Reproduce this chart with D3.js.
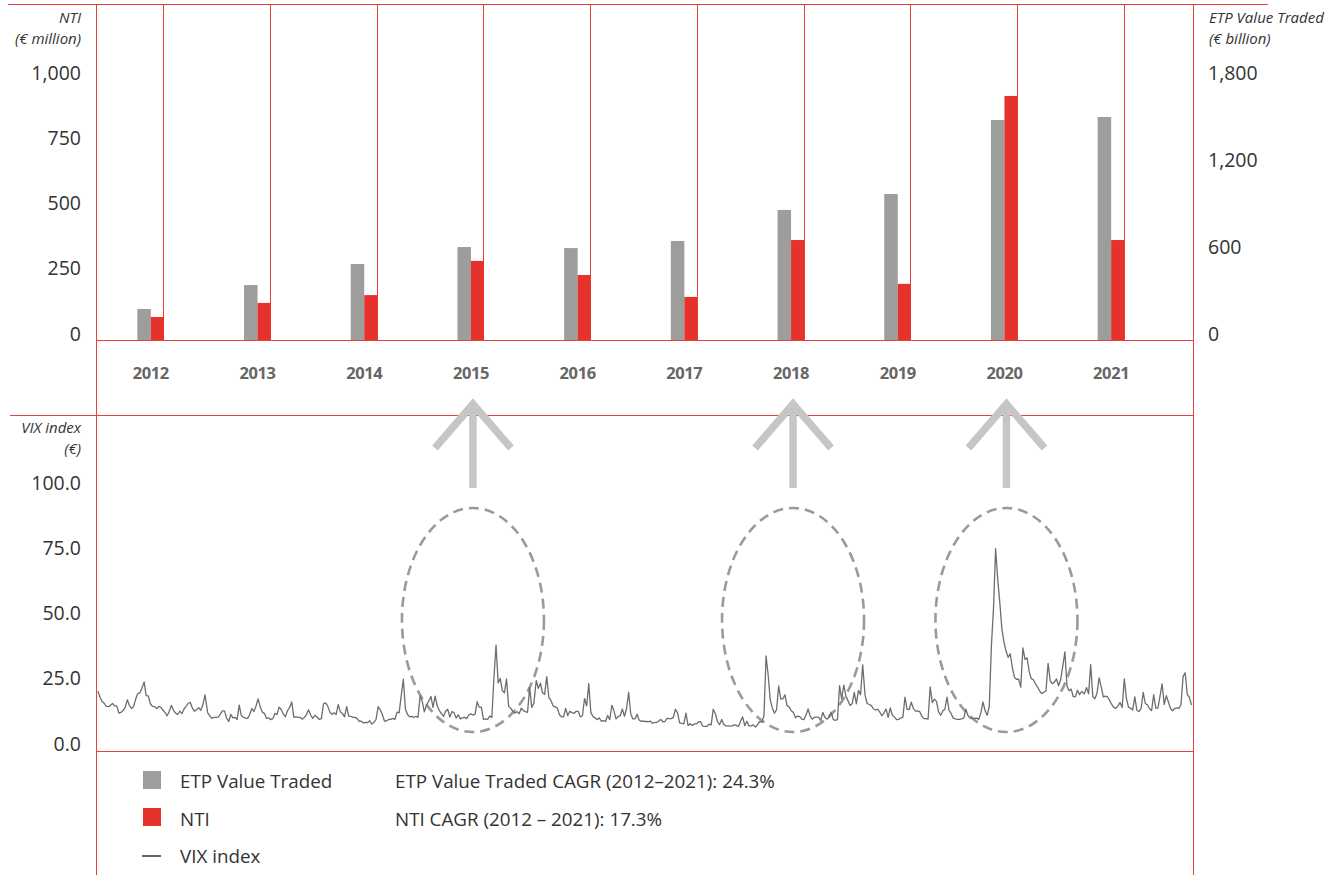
<!DOCTYPE html>
<html><head><meta charset="utf-8">
<script src="https://cdn.jsdelivr.net/npm/d3@7"></script>
<style>
body{margin:0;background:#fff}
svg{display:block}
text{font-family:"Open Sans",sans-serif}
</style>
</head><body>
<svg id="chart" width="1330" height="875"></svg>
<script>
// ---------------- DATA ----------------
const years = [2012, 2013, 2014, 2015, 2016, 2017, 2018, 2019, 2020, 2021];
const etpValueTraded = [214, 379, 524, 641, 634, 683, 897, 1007, 1517, 1538]; // € billion
const nti = [88, 142, 172, 303, 249, 165, 383, 215, 935, 383];                  // € million
const ntiTicks = [0, 250, 500, 750, 1000];
const etpTicks = [0, 600, 1200, 1800];
const vixTicks = [0, 25, 50, 75, 100];
const highlightYears = [2015, 2018, 2020];

// weekly VIX index readings per year
const vix2012 = [23.0,20.6,19.0,18.3,17.1,17.0,17.5,18.2,17.3,17.3,14.5,14.8,15.5,16.7,19.6,17.4,16.3,17.1,19.9,22.0,22.3,24.1,26.5,21.2,21.1,18.1,17.1,17.0,16.3,17.1,16.7,15.6,14.7,13.5,15.2,17.5,15.6,14.5,14.0,15.3,14.3,16.1,17.1,18.3,18.6,16.4,15.2,15.9,16.6,15.6,17.8,21.5];
const vix2013 = [14.6,13.5,12.5,12.9,12.9,13.0,14.1,15.4,15.4,12.6,11.3,14.0,12.7,12.9,12.1,17.6,13.6,12.9,12.6,12.5,14.0,16.3,15.1,17.2,20.0,16.9,14.9,14.4,12.5,12.7,12.0,12.4,14.4,14.0,16.8,15.9,14.2,13.1,15.5,16.7,18.8,13.0,13.1,12.9,12.9,12.2,12.8,13.9,15.8,13.8,12.5,13.7];
const vix2014 = [12.9,12.1,12.4,18.1,18.4,17.2,15.0,14.0,14.7,14.0,17.8,15.0,14.4,13.1,17.0,13.4,13.3,12.9,12.9,12.4,11.4,11.4,10.7,11.0,10.9,11.6,10.3,11.0,12.1,17.0,15.8,14.0,11.5,11.5,12.1,12.1,12.5,12.1,14.9,14.6,21.2,27.5,16.1,14.0,13.1,13.3,12.9,13.3,12.9,21.1,19.0,15.0];
const vix2015 = [17.8,19.2,20.9,16.7,21.0,17.3,15.5,14.3,13.3,15.2,16.0,13.0,15.1,14.7,12.6,13.9,12.3,12.7,12.9,12.4,13.8,14.2,13.8,14.0,18.9,16.8,16.8,12.1,12.3,12.1,13.4,12.8,28.0,40.6,26.1,27.8,23.2,22.3,27.6,17.1,16.4,15.1,14.5,15.1,14.3,16.4,15.5,15.1,14.8,24.4,16.7,18.2];
const vix2016 = [27.0,24.0,26.0,22.3,21.7,28.5,20.5,19.4,17.3,16.9,16.5,14.0,13.1,13.1,16.3,13.6,15.2,14.7,14.4,15.2,15.2,13.1,13.5,20.1,17.3,25.8,14.8,13.2,12.7,12.0,12.7,11.4,11.6,11.3,13.6,12.0,17.5,15.4,12.3,13.3,13.5,16.1,13.3,16.2,22.5,14.2,12.3,12.3,14.1,11.8,11.4,11.4];
const vix2017 = [11.3,11.2,11.5,10.6,11.0,10.9,11.5,12.1,11.2,11.3,12.5,12.4,12.4,12.9,16.0,14.6,10.8,10.6,10.4,14.5,9.8,10.4,9.8,10.4,10.4,11.2,11.2,9.5,9.4,9.4,10.3,10.0,16.0,14.3,11.3,10.1,12.1,10.2,9.6,9.6,9.5,9.6,10.0,9.8,9.4,11.4,13.1,9.7,11.4,9.6,9.6,10.0];
const vix2018 = [9.2,10.2,11.3,11.1,13.5,36.4,29.1,19.5,16.5,14.5,15.8,24.9,20.0,20.0,21.5,17.4,16.9,15.4,14.8,12.7,13.4,13.2,12.2,12.0,13.8,16.1,13.4,12.2,12.9,13.0,13.0,11.6,14.8,12.9,12.2,12.9,14.9,12.1,11.7,12.1,25.0,19.9,25.2,21.2,19.3,17.4,18.1,22.5,18.1,23.2,21.6,33.0];
const vix2019 = [21.4,18.2,17.8,17.4,16.1,15.7,16.0,14.9,13.5,14.6,16.1,12.9,16.5,13.7,13.0,12.0,12.1,12.7,12.9,20.6,16.0,15.9,18.7,16.3,15.3,15.4,15.1,13.3,12.4,12.4,12.2,24.6,18.5,19.9,19.0,15.0,13.7,15.3,16.0,20.6,15.6,14.3,12.6,12.3,12.1,12.1,12.3,12.6,16.0,13.6,12.6,12.5];
const vix2020 = [12.5,12.6,12.1,14.6,18.8,15.5,13.7,17.1,40.1,54.5,77.5,66.0,57.0,46.8,41.7,38.2,35.9,37.2,31.9,28.2,27.5,27.5,24.5,39.5,35.1,35.7,30.4,27.7,27.3,25.7,24.5,23.0,22.0,22.5,23.0,33.6,26.9,25.8,26.4,27.6,25.0,27.4,32.5,38.0,24.9,23.1,23.7,20.8,20.8,23.3,21.6,22.8];
const vix2021 = [21.9,24.3,21.9,33.1,20.9,20.0,22.1,28.0,24.7,20.7,21.0,20.7,19.4,17.9,16.7,16.3,17.3,18.6,16.7,27.6,20.2,16.8,16.4,15.7,20.7,15.6,15.1,16.2,22.5,18.2,17.7,16.2,15.5,21.6,16.4,16.4,21.0,25.7,17.8,21.2,18.8,16.3,15.4,16.3,16.5,16.3,17.9,28.6,30.0,21.6,20.6,17.6];
const vixByYear = [vix2012, vix2013, vix2014, vix2015, vix2016, vix2017, vix2018, vix2019, vix2020, vix2021];

const legendLabels = ["ETP Value Traded", "NTI", "VIX index"];
const cagrNotes = ["ETP Value Traded CAGR (2012\u20132021): 24.3%", "NTI CAGR (2012 \u2013 2021): 17.3%"];

// ---------------- DRAW ----------------
const RED = "#e5322b", GREY_BAR = "#9d9d9c", LINE = "#e8413a";
const svg = d3.select("#chart");

const x = d3.scaleBand().domain(years).range([97.5, 1164.5]);
const bw = x.bandwidth();
const cx = yr => x(yr) + bw / 2;
const yNti = d3.scaleLinear().domain([0, 1000]).range([340, 79]);
const yEtp = d3.scaleLinear().domain([0, 1800]).range([340, 79]);
const xt = d3.scaleTime().domain([new Date(2012, 0, 1), new Date(2022, 0, 1)]).range([97, 1193]);
const yV = d3.scaleLinear().domain([0, 100]).range([751, 490]);

// frame lines
const lines = svg.append("g").attr("stroke", LINE).attr("stroke-width", 1).attr("fill", "none");
lines.append("line").attr("x1", 8).attr("x2", 1268).attr("y1", 4.5).attr("y2", 4.5);
lines.append("line").attr("x1", 96.5).attr("x2", 96.5).attr("y1", 4).attr("y2", 875);
lines.append("line").attr("x1", 1193.5).attr("x2", 1193.5).attr("y1", 4).attr("y2", 875);
lines.append("line").attr("x1", 10).attr("x2", 1193.5).attr("y1", 415.5).attr("y2", 415.5);
lines.append("line").attr("x1", 96.5).attr("x2", 1193.5).attr("y1", yNti(0) + 0.5).attr("y2", yNti(0) + 0.5);
lines.append("line").attr("x1", 96.5).attr("x2", 1193.5).attr("y1", yV(0) + 0.5).attr("y2", yV(0) + 0.5);
lines.selectAll("line.yr").data(years).join("line").attr("class", "yr")
  .attr("x1", d => Math.floor(cx(d) + 13) + 0.5).attr("x2", d => Math.floor(cx(d) + 13) + 0.5)
  .attr("y1", 4).attr("y2", yNti(0));

// bars
svg.append("g").selectAll("rect").data(years).join("rect")
  .attr("x", d => cx(d) - 13.5).attr("width", 13.5)
  .attr("y", (d, i) => yEtp(etpValueTraded[i])).attr("height", (d, i) => yEtp(0) - yEtp(etpValueTraded[i]))
  .attr("fill", GREY_BAR);
svg.append("g").selectAll("rect").data(years).join("rect")
  .attr("x", d => cx(d)).attr("width", 13)
  .attr("y", (d, i) => yNti(nti[i])).attr("height", (d, i) => yNti(0) - yNti(nti[i]))
  .attr("fill", RED);

// year labels
svg.append("g").selectAll("text").data(years).join("text")
  .attr("x", d => cx(d)).attr("y", 379).attr("text-anchor", "middle")
  .attr("fill", "#666").style("font-size", "16.5px").style("font-weight", 700).style("letter-spacing", "-0.4px")
  .text(d => d);

// left axis (NTI)
const fmt0 = d3.format(",");
svg.append("g").selectAll("text").data(ntiTicks).join("text")
  .attr("x", 81).attr("y", d => yNti(d) + 0.5).attr("text-anchor", "end")
  .attr("fill", "#333").style("font-size", "19.5px").text(d => fmt0(d));
// right axis (ETP)
svg.append("g").selectAll("text").data(etpTicks).join("text")
  .attr("x", 1208).attr("y", d => yEtp(d) + 0.5).attr("text-anchor", "start")
  .attr("fill", "#333").style("font-size", "19.5px").text(d => fmt0(d));
// VIX axis
const fmt1 = d3.format(".1f");
svg.append("g").selectAll("text").data(vixTicks).join("text")
  .attr("x", 81).attr("y", d => yV(d) - 0.5).attr("text-anchor", "end")
  .attr("fill", "#333").style("font-size", "19.5px").text(d => fmt1(d));

// axis titles
function title(xp, lines2, anchor, y0) {
  const g = svg.append("g").attr("fill", "#333").style("font-size", "15px").style("font-style", "italic");
  lines2.forEach((t, i) => g.append("text").attr("x", xp).attr("y", y0 + i * 21).attr("text-anchor", anchor).text(t));
}
title(81, ["NTI", "(\u20ac million)"], "end", 23);
title(1209, ["ETP Value Traded", "(\u20ac billion)"], "start", 23);
title(81, ["VIX index", "(\u20ac)"], "end", 433);

// ellipses
svg.append("g").selectAll("ellipse").data(highlightYears).join("ellipse")
  .attr("cx", d => cx(d) + 2).attr("cy", 620).attr("rx", 71).attr("ry", 112)
  .attr("fill", "none").attr("stroke", "#9a9a9a").attr("stroke-width", 2.6).attr("stroke-dasharray", "10 6");

// VIX line
const vixPoints = [];
vixByYear.forEach((arr, yi) => arr.forEach((v, i) => vixPoints.push({ date: new Date(years[yi], 0, 4 + 7 * i), v })));
svg.append("path").datum(vixPoints)
  .attr("d", d3.line().x(d => xt(d.date)).y(d => yV(d.v)))
  .attr("fill", "none").attr("stroke", "#6d6d6d").attr("stroke-width", 1.3).attr("stroke-linejoin", "round");

// arrows
const ag = svg.append("g").attr("stroke", "#c6c6c6").attr("stroke-width", 7.5).attr("fill", "none");
highlightYears.forEach(yr => {
  const ax = cx(yr) + 2;
  ag.append("line").attr("x1", ax).attr("x2", ax).attr("y1", 406).attr("y2", 488);
  ag.append("polyline").attr("points", `${ax - 38},${448} ${ax},${404} ${ax + 38},${448}`)
    .attr("stroke-linejoin", "miter");
});

// legend
const lg = svg.append("g");
lg.append("rect").attr("x", 143).attr("y", 771).attr("width", 18).attr("height", 18).attr("fill", GREY_BAR);
lg.append("rect").attr("x", 143).attr("y", 808).attr("width", 18).attr("height", 18).attr("fill", RED);
lg.append("line").attr("x1", 142).attr("x2", 161).attr("y1", 856).attr("y2", 856).attr("stroke", "#666").attr("stroke-width", 2);
lg.selectAll("text.lab").data(legendLabels).join("text").attr("class", "lab")
  .attr("x", 180).attr("y", (d, i) => 788 + i * 37.5).attr("fill", "#333").style("font-size", "18.8px").text(d => d);
lg.selectAll("text.note").data(cagrNotes).join("text").attr("class", "note")
  .attr("x", 395).attr("y", (d, i) => 788 + i * 37.5).attr("fill", "#333").style("font-size", "18.8px").text(d => d);
</script>
</body></html>
